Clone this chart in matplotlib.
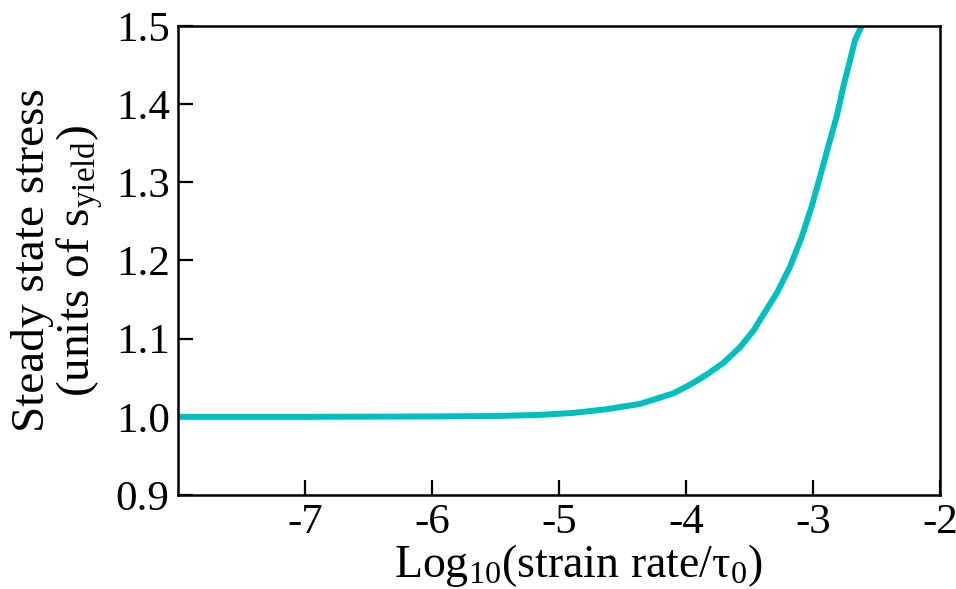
import matplotlib
matplotlib.use("Agg")
import matplotlib.pyplot as plt

plt.rcParams['font.family'] = ['Liberation Serif', 'DejaVu Serif']
plt.rcParams['mathtext.fontset'] = 'custom'
plt.rcParams['mathtext.rm'] = 'Liberation Serif'
plt.rcParams['mathtext.it'] = 'Liberation Serif:italic'

# log10 strain rate vs steady state stress
log_rate = [-8.0, -7.0, -6.0, -5.5, -5.15, -4.887, -4.625, -4.362, -4.1,
            -3.969, -3.837, -3.706, -3.575, -3.47, -3.417, -3.286, -3.181,
            -3.089, -3.011, -2.945, -2.88, -2.814, -2.762, -2.709, -2.669,
            -2.617]
stress = [1.0, 1.0, 1.0005, 1.001, 1.0025, 1.005, 1.0097, 1.0165, 1.030,
          1.041, 1.054, 1.069, 1.089, 1.110, 1.124, 1.158, 1.192,
          1.230, 1.269, 1.307, 1.346, 1.384, 1.422, 1.456, 1.482,
          1.5]

xticks = [-7, -6, -5, -4, -3, -2]
yticks = [0.9, 1.0, 1.1, 1.2, 1.3, 1.4, 1.5]

fig = plt.figure(figsize=(9.56, 5.89), dpi=100)
ax = fig.add_axes([0.1862, 0.1596, 0.7971, 0.7963])

ax.plot(log_rate, stress, color='#00BFBF', linewidth=4.3,
        solid_capstyle='round', solid_joinstyle='round')

ax.set_xlim(-8, -2)
ax.set_ylim(0.9, 1.5)
ax.set_xticks(xticks)
ax.set_xticklabels([str(t) for t in xticks])
ax.set_yticks(yticks)
ax.set_yticklabels([f'{t:.1f}' for t in yticks])

ax.tick_params(direction='in', length=11, width=1.6, labelsize=31, pad=6,
               top=False, right=False)
for sp in ax.spines.values():
    sp.set_linewidth(1.8)

ax.set_xlabel(r'Log$_{\mathregular{10}}$(strain rate/τ$_{\mathregular{0}}$)',
              fontsize=33, labelpad=0)
ax.xaxis.label.set_x(0.525)
ax.set_ylabel('Steady state stress\n' + r'(units of s$_{\mathregular{yield}}$)',
              fontsize=34, linespacing=1.0, labelpad=8)

fig.savefig('out.png', dpi=100)
